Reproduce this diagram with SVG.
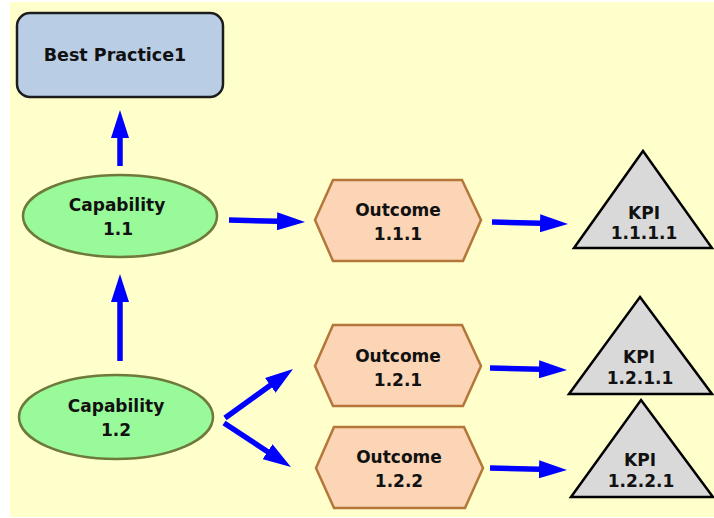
<svg xmlns="http://www.w3.org/2000/svg" width="714" height="518" viewBox="0 0 714 518">
<style>
text{font-family:"DejaVu Sans","Verdana",sans-serif;font-weight:bold;font-size:17px;fill:#111;text-anchor:middle}
.box{fill:#B9CDE5;stroke:#1c1c1c;stroke-width:2.5}
.cap{fill:#99FA99;stroke:#6E7A3C;stroke-width:2.5}
.out{fill:#FBD5B5;stroke:#B5763A;stroke-width:2.5}
.kpi{fill:#D9D9D9;stroke:#000;stroke-width:2.5;stroke-linejoin:miter}
.arr{stroke:#0000FF;stroke-width:5.5;fill:none;marker-end:url(#ah)}
</style>
<defs>
<marker id="ah" markerUnits="userSpaceOnUse" viewBox="0 0 28 18" markerWidth="28" markerHeight="18" refX="1" refY="9" orient="auto">
<path d="M0,0 L28,9 L0,18 z" fill="#0000FF"/>
</marker>
</defs>
<rect x="0" y="0" width="714" height="518" fill="#FFFFFF"/>
<rect x="10" y="2" width="704" height="515" fill="#FFFFCC"/>
<g id="connectors">
<line class="arr" x1="120" y1="166" x2="120" y2="137"/>
<line class="arr" x1="120" y1="361" x2="120" y2="301"/>
<line class="arr" x1="229" y1="220" x2="278" y2="221.3"/>
<line class="arr" x1="492" y1="222" x2="541" y2="223.3"/>
<line class="arr" x1="490" y1="368" x2="540" y2="369.3"/>
<line class="arr" x1="490" y1="468" x2="540" y2="469.3"/>
<line class="arr" x1="225" y1="418" x2="271.1" y2="384.8"/>
<line class="arr" x1="224" y1="423" x2="268.4" y2="452.2"/>
</g>
<g id="bp1">
<rect class="box" x="17" y="13" width="206" height="84" rx="13" ry="13"/>
<text x="115" y="61" style="font-size:17.5px">Best Practice1</text>
</g>
<g id="cap11">
<ellipse class="cap" cx="120" cy="216" rx="97" ry="41"/>
<text x="117" y="211">Capability</text>
<text x="118" y="235">1.1</text>
</g>
<g id="cap12">
<ellipse class="cap" cx="116" cy="417" rx="97" ry="42"/>
<text x="116" y="412">Capability</text>
<text x="116" y="436">1.2</text>
</g>
<g id="out111">
<polygon class="out" points="315,220 333,180 462,180 481,220 463,261 333,261"/>
<text x="398" y="216">Outcome</text>
<text x="398" y="240">1.1.1</text>
</g>
<g id="out121">
<polygon class="out" points="315,366 333,325 462,325 481,366 463,406 333,406"/>
<text x="398" y="362">Outcome</text>
<text x="398" y="386">1.2.1</text>
</g>
<g id="out122">
<polygon class="out" points="316,468 334,427 464,427 483,468 465,508 334,508"/>
<text x="399" y="463">Outcome</text>
<text x="399" y="487">1.2.2</text>
</g>
<g id="kpi1111">
<polygon class="kpi" points="643,151 712,248 574,248"/>
<text x="644" y="219">KPI</text>
<text x="644" y="239">1.1.1.1</text>
</g>
<g id="kpi1211">
<polygon class="kpi" points="640,297 712,394 569,394"/>
<text x="639" y="363">KPI</text>
<text x="640" y="384">1.2.1.1</text>
</g>
<g id="kpi1221">
<polygon class="kpi" points="641,400 713,497 571,497"/>
<text x="640" y="466">KPI</text>
<text x="641" y="487">1.2.2.1</text>
</g>
</svg>
